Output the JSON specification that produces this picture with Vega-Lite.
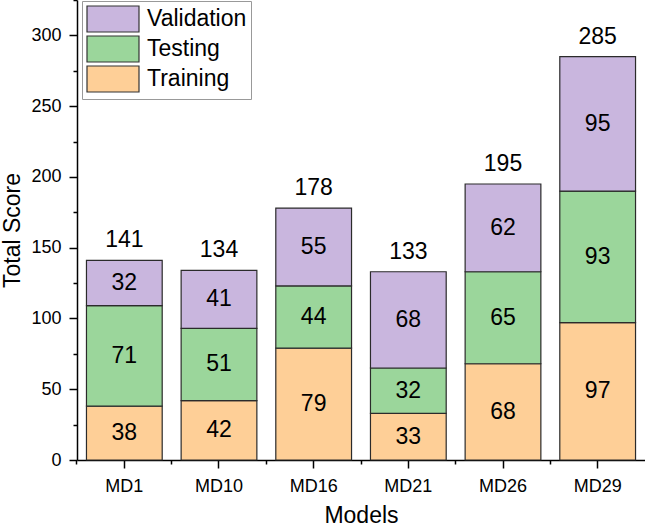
{
 "$schema": "https://vega.github.io/schema/vega-lite/v6.json",
 "width": 568, "height": 460,
 "autosize": {"type": "none"},
 "padding": {"left": 77, "top": 0, "right": 0, "bottom": 68},
 "config": {
  "view": {"stroke": null},
  "font": "Liberation Sans"
 },
 "data": {"values": [
  {"model": "MD1", "set": "Training", "order": 1, "value": 38},
  {"model": "MD1", "set": "Testing", "order": 2, "value": 71},
  {"model": "MD1", "set": "Validation", "order": 3, "value": 32},
  {"model": "MD10", "set": "Training", "order": 1, "value": 42},
  {"model": "MD10", "set": "Testing", "order": 2, "value": 51},
  {"model": "MD10", "set": "Validation", "order": 3, "value": 41},
  {"model": "MD16", "set": "Training", "order": 1, "value": 79},
  {"model": "MD16", "set": "Testing", "order": 2, "value": 44},
  {"model": "MD16", "set": "Validation", "order": 3, "value": 55},
  {"model": "MD21", "set": "Training", "order": 1, "value": 33},
  {"model": "MD21", "set": "Testing", "order": 2, "value": 32},
  {"model": "MD21", "set": "Validation", "order": 3, "value": 68},
  {"model": "MD26", "set": "Training", "order": 1, "value": 68},
  {"model": "MD26", "set": "Testing", "order": 2, "value": 65},
  {"model": "MD26", "set": "Validation", "order": 3, "value": 62},
  {"model": "MD29", "set": "Training", "order": 1, "value": 97},
  {"model": "MD29", "set": "Testing", "order": 2, "value": 93},
  {"model": "MD29", "set": "Validation", "order": 3, "value": 95}
 ]},
 "layer": [
  {
   "mark": {"type": "bar", "stroke": "#2b2b2b", "strokeWidth": 1.2},
   "encoding": {
    "x": {"field": "model", "type": "nominal", "sort": ["MD1", "MD10", "MD16", "MD21", "MD26", "MD29"], "scale": {"paddingInner": 0.2, "paddingOuter": 0.1},
     "axis": {"orient": "bottom", "title": "Models", "labelAngle": 0, "tickSize": 8, "labelPadding": 9, "titlePadding": 9, "labelFontSize": 18, "titleFontSize": 23, "titleFontWeight": "normal", "domainColor": "#000", "tickColor": "#000", "labelColor": "#000", "titleColor": "#000", "domainWidth": 1.5, "tickWidth": 1.5, "grid": false}},
    "y": {"field": "value", "type": "quantitative", "stack": "zero", "scale": {"domain": [0, 325], "nice": false},
     "axis": {"orient": "left", "title": "Total Score", "values": [0, 50, 100, 150, 200, 250, 300], "tickSize": 8, "labelPadding": 8, "titlePadding": 6, "labelFontSize": 18, "titleFontSize": 23, "titleFontWeight": "normal", "domainColor": "#000", "tickColor": "#000", "labelColor": "#000", "titleColor": "#000", "domainWidth": 1.5, "tickWidth": 1.5, "grid": false}},
    "color": {"field": "set", "type": "nominal",
     "scale": {"domain": ["Validation", "Testing", "Training"], "range": ["#C9B6DE", "#9BD69B", "#FECF97"]},
     "legend": {"orient": "none", "legendX": 5, "legendY": 1, "title": null, "symbolType": "M-2,-1H2V1H-2Z", "symbolSize": 676, "symbolOffset": 13, "symbolStrokeColor": "#333", "symbolStrokeWidth": 1.2, "symbolOpacity": 1, "labelFontSize": 23, "labelOffset": 20, "rowPadding": -3, "padding": 4, "strokeColor": "#999", "fillColor": "white", "labelColor": "#000"}},
    "order": {"field": "order", "type": "quantitative"}
   }
  },
  {
   "transform": [
    {"stack": "value", "groupby": ["model"], "sort": [{"field": "order", "order": "ascending"}], "as": ["lo", "hi"]},
    {"fold": ["lo", "hi"], "as": ["edge", "pos"]},
    {"aggregate": [{"op": "mean", "field": "pos", "as": "mid"}], "groupby": ["model", "set", "value"]}
   ],
   "mark": {"type": "text", "fontSize": 23, "baseline": "middle", "color": "#000"},
   "encoding": {
    "x": {"field": "model", "type": "nominal", "sort": ["MD1", "MD10", "MD16", "MD21", "MD26", "MD29"], "axis": null},
    "y": {"field": "mid", "type": "quantitative", "axis": null},
    "text": {"field": "value", "type": "quantitative"}
   }
  },
  {
   "transform": [
    {"aggregate": [{"op": "sum", "field": "value", "as": "total"}], "groupby": ["model"]}
   ],
   "mark": {"type": "text", "fontSize": 23, "baseline": "alphabetic", "dy": -13, "color": "#000"},
   "encoding": {
    "x": {"field": "model", "type": "nominal", "sort": ["MD1", "MD10", "MD16", "MD21", "MD26", "MD29"], "axis": null},
    "y": {"field": "total", "type": "quantitative", "axis": null},
    "text": {"field": "total", "type": "quantitative"}
   }
  },
  {
   "mark": {"type": "point", "opacity": 0},
   "encoding": {
    "x": {"field": "model", "type": "nominal", "sort": ["MD1", "MD10", "MD16", "MD21", "MD26", "MD29"],
     "axis": {"orient": "bottom", "title": null, "labels": false, "domain": false, "tickSize": 4, "tickColor": "#000", "tickWidth": 1.5, "grid": false, "bandPosition": -0.125}},
    "y": {"field": "value", "type": "quantitative",
     "axis": {"orient": "left", "title": null, "labels": false, "domain": false, "tickSize": 4, "tickColor": "#000", "tickWidth": 1.5, "grid": false, "values": [25, 75, 125, 175, 225, 275, 325]}}
   }
  }
 ],
 "resolve": {"axis": {"x": "independent", "y": "independent"}}
}
